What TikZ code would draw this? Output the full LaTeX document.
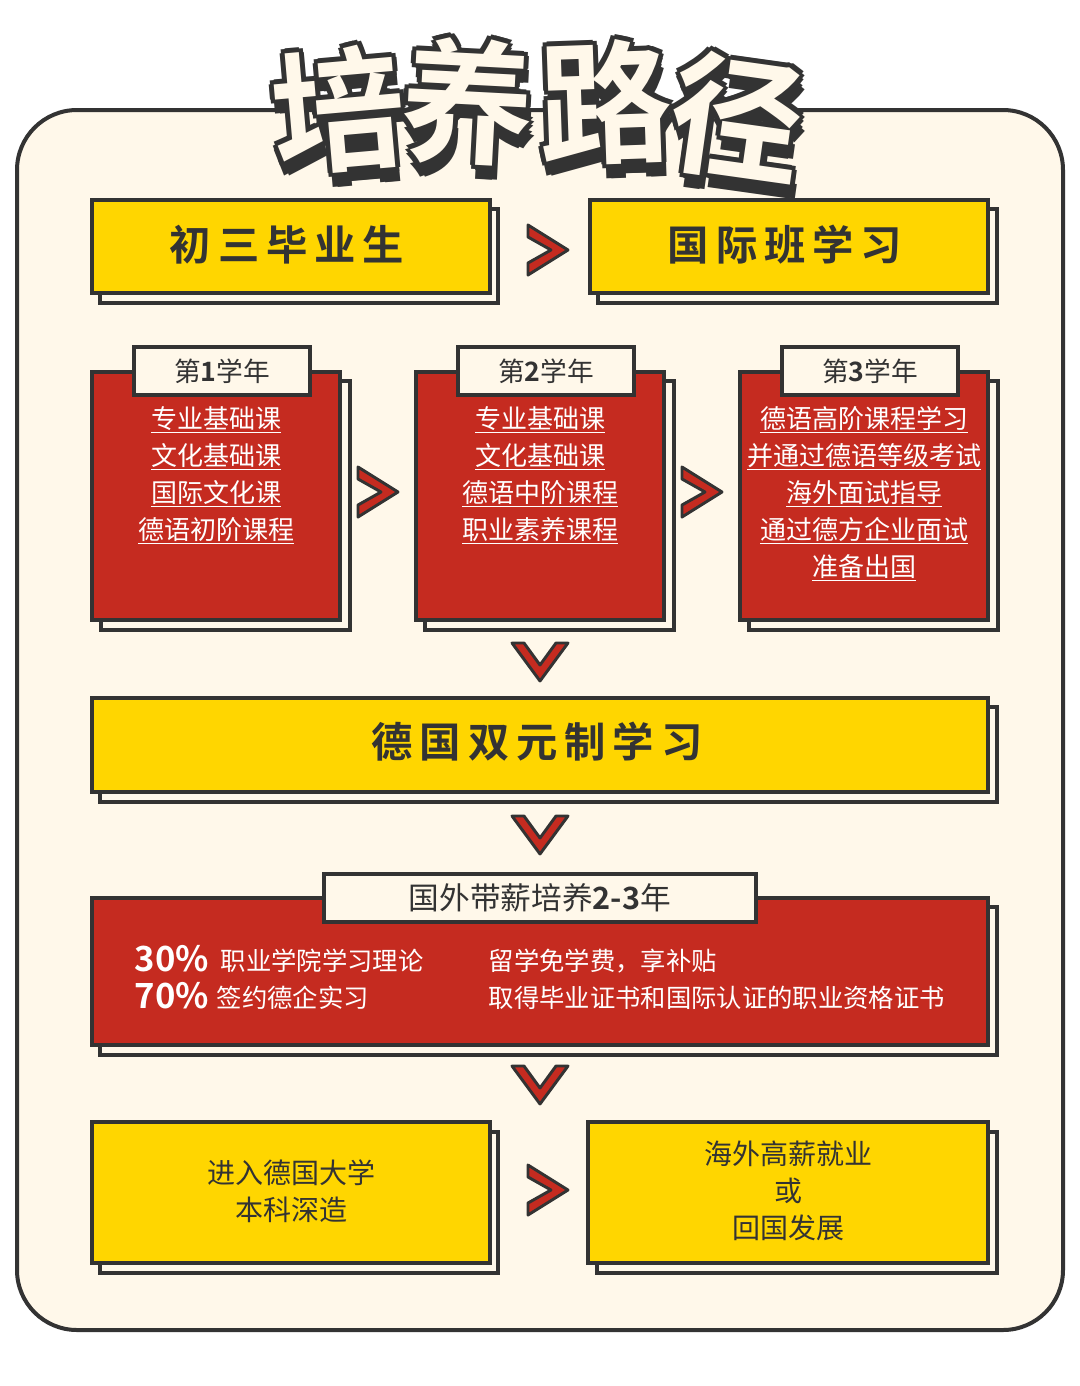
\documentclass[tikz,border=0pt]{standalone}
\usepackage{fontspec}
\setmainfont{Noto Sans CJK SC}[BoldFont={* Bold}]
\definecolor{dk}{HTML}{333333}
\definecolor{cream}{HTML}{FFF8EA}
\definecolor{yel}{HTML}{FFD600}
\definecolor{rd}{HTML}{C52B20}
\tikzset{
 bx/.style={draw=dk,line width=3pt},
 shadowbox/.style={draw=dk,line width=3pt,fill=cream},
 lst/.style={text=white,font=\fontsize{19.5}{20}\selectfont,anchor=center},
 chev/.style={fill=rd,draw=dk,line width=2.2pt,line join=round},
 ttl/.style={font=\fontsize{100}{100}\selectfont\bfseries},
 every node/.style={text=dk}
}
\newcommand{\rchev}[2]{\draw[chev,shift={(#1,#2)}] (-20,-25)--(20,0)--(-20,25)--(-20,13)--(3,0)--(-20,-13)--cycle;}
\newcommand{\dchev}[2]{\draw[chev,shift={(#1,#2)}] (-28,-19)--(0,19)--(28,-19)--(16,-19)--(0,3)--(-16,-19)--cycle;}
\newcommand{\tchar}[4]{%
 \foreach \dx/\dy in {5/0,-5/0,0/5,0/-5,4/4,-4/4,4/-4,-4/-4,3/10,0/14,5/14}{\node[ttl,text=dk,rotate=#3] at (#1+\dx,#2+\dy) {#4};}
 \node[ttl,text=cream,rotate=#3] at (#1,#2) {#4};}
\begin{document}
\begin{tikzpicture}[x=0.75pt,y=-0.75pt]
\fill[white] (0,0) rectangle (1080,1386);
\useasboundingbox (0,0) rectangle (1080,1386);
\draw[draw=dk,line width=3pt,fill=cream,rounded corners=45pt] (17,110) rectangle (1063,1330);
% title
\tchar{338}{110}{5}{培}
\tchar{468}{102}{-3}{养}
\tchar{605}{102}{2}{路}
\tchar{738}{118}{-8}{径}
% row 1
\draw[shadowbox] (100,209) rectangle (498,303);
\draw[bx,fill=yel] (92,200) rectangle (490,293);
\node (a1) at (287,245) {\fontsize{31}{31}\selectfont\bfseries 初\,三\,毕\,业\,生};
\draw[shadowbox] (598,209) rectangle (997,303);
\draw[bx,fill=yel] (590,200) rectangle (988,293);
\node (a2) at (785,245) {\fontsize{31}{31}\selectfont\bfseries 国\,际\,班\,学\,习};
\rchev{548}{250}
% years
\foreach \x/\n in {92/1,416/2,740/3}{
 \draw[shadowbox] (\x+9,381) rectangle (\x+258,630);
 \draw[bx,fill=rd] (\x,372) rectangle (\x+248,620);
}
\draw[bx,fill=cream] (134,347) rectangle (310,395);
\node (y1) at (222,371) {\fontsize{20}{20}\selectfont 第\textbf{1}学年};
\draw[bx,fill=cream] (458,347) rectangle (634,395);
\node (y2) at (546,371) {\fontsize{20}{20}\selectfont 第\textbf{2}学年};
\draw[bx,fill=cream] (782,347) rectangle (958,395);
\node (y3) at (870,371) {\fontsize{20}{20}\selectfont 第\textbf{3}学年};
\node[lst] (l11) at (216,420) {\underline{专业基础课}};
\node[lst] (l12) at (216,457) {\underline{文化基础课}};
\node[lst] (l13) at (216,494) {\underline{国际文化课}};
\node[lst] (l14) at (216,531) {\underline{德语初阶课程}};
\node[lst] (l21) at (540,420) {\underline{专业基础课}};
\node[lst] (l22) at (540,457) {\underline{文化基础课}};
\node[lst] (l23) at (540,494) {\underline{德语中阶课程}};
\node[lst] (l24) at (540,531) {\underline{职业素养课程}};
\node[lst] (l31) at (864,420) {\underline{德语高阶课程学习}};
\node[lst] (l32) at (864,457) {\underline{并通过德语等级考试}};
\node[lst] (l33) at (864,494) {\underline{海外面试指导}};
\node[lst] (l34) at (864,531) {\underline{通过德方企业面试}};
\node[lst] (l35) at (864,568) {\underline{准备出国}};
\rchev{378}{492}
\rchev{702}{492}
\dchev{540}{662}
% dual
\draw[shadowbox] (100,707) rectangle (997,802);
\draw[bx,fill=yel] (92,698) rectangle (988,792);
\node (d) at (537,742) {\fontsize{31}{31}\selectfont\bfseries 德\,国\,双\,元\,制\,学\,习};
\dchev{540}{835}
% abroad
\draw[shadowbox] (100,907) rectangle (997,1055);
\draw[bx,fill=rd] (92,898) rectangle (988,1045);
\draw[bx,fill=cream] (324,874) rectangle (756,922);
\node (t) at (540,898) {\fontsize{23}{23}\selectfont 国外带薪培养\textbf{2-3}年};
\node[anchor=west,text=white] (p1) at (130,959) {\fontsize{26}{26}\selectfont\textbf{30\%}};
\node[anchor=west,text=white] (q1) at (216,961) {\fontsize{19}{19}\selectfont 职业学院学习理论};
\node[anchor=west,text=white] (p2) at (130,996) {\fontsize{26}{26}\selectfont\textbf{70\%}};
\node[anchor=west,text=white] (q2) at (212,998) {\fontsize{19}{19}\selectfont 签约德企实习};
\node[anchor=west,text=white] (r1) at (484,961) {\fontsize{19}{19}\selectfont 留学免学费，享补贴};
\node[anchor=west,text=white] (r2) at (484,998) {\fontsize{19}{19}\selectfont 取得毕业证书和国际认证的职业资格证书};
\dchev{540}{1085}
% bottom
\draw[shadowbox] (100,1132) rectangle (498,1273);
\draw[bx,fill=yel] (92,1122) rectangle (490,1263);
\node[align=center,font=\fontsize{21}{28}\selectfont] (b1) at (291,1191) {进入德国大学\\本科深造};
\draw[shadowbox] (597,1132) rectangle (997,1273);
\draw[bx,fill=yel] (588,1122) rectangle (988,1263);
\node[align=center,font=\fontsize{21}{28}\selectfont] (b2) at (788,1191) {海外高薪就业\\或\\回国发展};
\rchev{548}{1190}
\end{tikzpicture}
\end{document}
